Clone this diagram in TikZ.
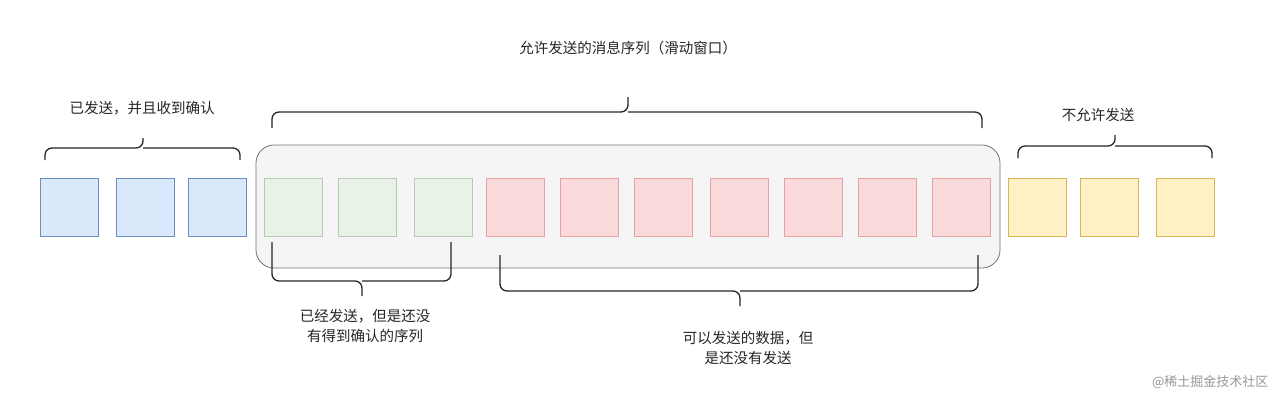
\documentclass[tikz,border=0pt]{standalone}
\usepackage{fontspec}
\setmainfont{Noto Sans CJK SC}
\definecolor{bF}{HTML}{DAE8FC}\definecolor{bD}{HTML}{6C8EBF}
\definecolor{gF}{HTML}{E8F2E6}\definecolor{gD}{HTML}{B5CCB2}
\definecolor{rF}{HTML}{FADADA}\definecolor{rD}{HTML}{E3A3A3}
\definecolor{yF}{HTML}{FFF0C6}\definecolor{yD}{HTML}{D6B656}
\begin{document}
\begin{tikzpicture}[x=1pt,y=-1pt,
  sq/.style={minimum width=58pt, minimum height=58pt, inner sep=0pt, line width=0.8pt},
  br/.style={draw=black!85, line width=1.3pt, rounded corners=7pt},
  lab/.style={font=\fontsize{14.5}{20}\selectfont, align=center, text=black!85}]
\useasboundingbox (0,0) rectangle (1280,400);
\fill[white] (0,0) rectangle (1280,400);
\draw[black!55, fill=black!4, line width=0.8pt, rounded corners=18pt] (256,145) rectangle (1000,268);
\foreach \x/\n in {69/b1,145/b2,217/b3}{\node[sq, fill=bF, draw=bD] (\n) at (\x,207) {};}
\foreach \x/\n in {293/g1,367/g2,443/g3}{\node[sq, fill=gF, draw=gD] (\n) at (\x,207) {};}
\foreach \x/\n in {515/r1,589/r2,663/r3,739/r4,813/r5,887/r6,961/r7}{\node[sq, fill=rF, draw=rD] (\n) at (\x,207) {};}
\foreach \x/\n in {1037/y1,1109/y2,1185/y3}{\node[sq, fill=yF, draw=yD] (\n) at (\x,207) {};}
\draw[br] (45,160) -- (45,148) -- (143,148) -- (143,138);
\draw[br] (240,160) -- (240,148) -- (143,148);
\draw[br] (272,128) -- (272,112) -- (628,112) -- (628,97);
\draw[br] (982,128) -- (982,112) -- (628,112);
\draw[br] (1018,158) -- (1018,146) -- (1115,146) -- (1115,135);
\draw[br] (1212,158) -- (1212,146) -- (1115,146);
\draw[br] (272,242) -- (272,281) -- (362,281) -- (362,296);
\draw[br] (451,242) -- (451,281) -- (362,281);
\draw[br] (500,255) -- (500,291) -- (740,291) -- (740,306);
\draw[br] (978,255) -- (978,291) -- (740,291);
\node[lab] (t1) at (142,108) {已发送，并且收到确认};
\node[lab] (t2) at (628,48) {允许发送的消息序列（滑动窗口）};
\node[lab] (t3) at (1098,115) {不允许发送};
\node[lab] (t4) at (365,326) {已经发送，但是还没\\有得到确认的序列};
\node[lab] (t5) at (748,348) {可以发送的数据，但\\是还没有发送};
\node[font=\fontsize{13}{16}\selectfont, text=black!40, anchor=east] (wm) at (1272,382) {@稀土掘金技术社区};
\end{tikzpicture}
\end{document}
